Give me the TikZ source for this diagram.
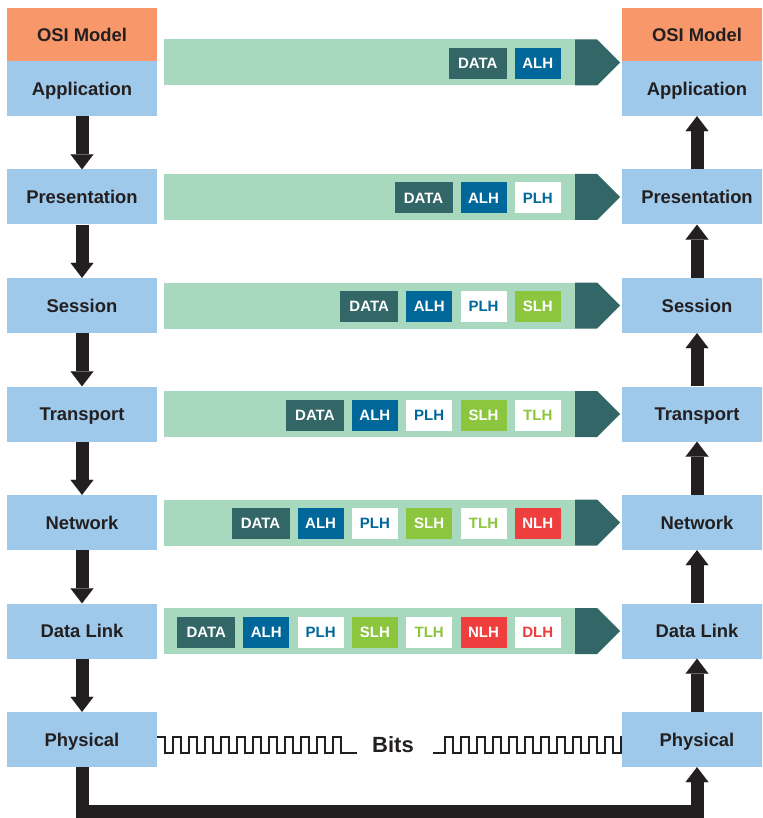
\documentclass[tikz,border=0pt]{standalone}
\usepackage{fontspec}
\setmainfont{Liberation Sans}
\usetikzlibrary{arrows.meta}

\definecolor{osiorange}{HTML}{F7976A}
\definecolor{layerblue}{HTML}{9EC9EA}
\definecolor{barlight}{HTML}{A8D9BE}
\definecolor{tealdark}{HTML}{336666}
\definecolor{alhblue}{HTML}{00679A}
\definecolor{sgreen}{HTML}{8CC63F}
\definecolor{nred}{HTML}{EF3E3E}
\definecolor{ink}{HTML}{231F20}

\tikzset{
  layer/.style={fill=layerblue, minimum width=150pt, minimum height=55pt, inner sep=0pt,
    text height=13.2pt, text depth=0pt,
    text=ink, font=\bfseries\fontsize{18.4}{20}\selectfont},
  title/.style={layer, fill=osiorange, minimum height=53pt},
  pkt/.style={minimum width=46pt, minimum height=31pt, inner sep=0pt, anchor=east,
    text height=10.7pt, text depth=0pt,
    font=\bfseries\fontsize{15}{17}\selectfont},
  datab/.style={fill=tealdark, text=white, minimum width=58pt},
  alh/.style={fill=alhblue, text=white},
  plh/.style={fill=white, text=alhblue},
  slh/.style={fill=sgreen, text=white},
  tlh/.style={fill=white, text=sgreen},
  nlh/.style={fill=nred, text=white},
  dlh/.style={fill=white, text=nred},
  bigarrow/.style={draw=ink, line width=13pt, line join=miter,
    -{Triangle[width=23pt, length=15pt, line width=0.01pt]}},
  wave/.style={draw=ink, line width=2.2pt, line join=miter},
}

\begin{document}
\begin{tikzpicture}[x=1pt, y=-1pt]
\useasboundingbox (0,0) rectangle (762,818);
\clip (0,0) rectangle (762,818);

% sender and receiver stacks
\node[title] (LT) at (82,34.5) {OSI Model};
\node[title] (RT) at (697,34.5) {OSI Model};
\foreach \i/\name in {0/Application,1/Presentation,2/Session,3/Transport,4/Network,5/Data Link,6/Physical} {
  \node[layer] (L\i) at (82,88.5+108.5*\i) {\name};
  \node[layer] (R\i) at (697,88.5+108.5*\i) {\name};
}

% encapsulation bars with headers
\foreach \r/\cy/\n in {0/62.5/1, 1/197/2, 2/305.5/3, 3/414/4, 4/522.5/5, 5/631/6} {
  \fill[barlight] (164,\cy-23) rectangle (575,\cy+23);
  \fill[tealdark] (575,\cy-23) -- (597,\cy-23) -- (620,\cy) -- (597,\cy+23) -- (575,\cy+23) -- cycle;
  \node[pkt, datab] (d\r) at ({561-54.3*(\n-1)-54},\cy+1) {DATA};
  \foreach \s/\t [count=\j from 0] in {alh/ALH,plh/PLH,slh/SLH,tlh/TLH,nlh/NLH,dlh/DLH} {
    \ifnum\j<\n
      \node[pkt, \s] (h\r\j) at ({561-54.3*(\n-1-\j)},\cy+1) {\t};
    \fi
  }
}

% downward flow on the sender, upward on the receiver
\foreach \i [evaluate=\i as \j using int(\i+1)] in {0,...,5} {
  \draw[bigarrow] (L\i.south) -- (L\j.north);
  \draw[bigarrow] (R\j.north) -- (R\i.south);
}

% physical link along the bottom
\coordinate (floor) at (0,811);
\draw[bigarrow] (L6.south) |- (R6.south |- floor) -- (R6.south);

% bit stream between the physical layers
\draw[wave] (157,737) \foreach \k in {0,...,10} { -- ++(8,0) -- ++(0,16) -- ++(8,0) -- ++(0,-16) }
  -- ++(8,0) -- ++(0,16) -- ++(16,0);
\draw[wave] (433,753) -- ++(12,0) -- ++(0,-16)
  \foreach \k in {0,...,10} { -- ++(8,0) -- ++(0,16) -- ++(8,0) -- ++(0,-16) } -- ++(1,0);
\node[text=ink, font=\bfseries\fontsize{22}{24}\selectfont, text height=15.8pt, text depth=0pt]
  (bits) at (393,745) {Bits};
\end{tikzpicture}
\end{document}
